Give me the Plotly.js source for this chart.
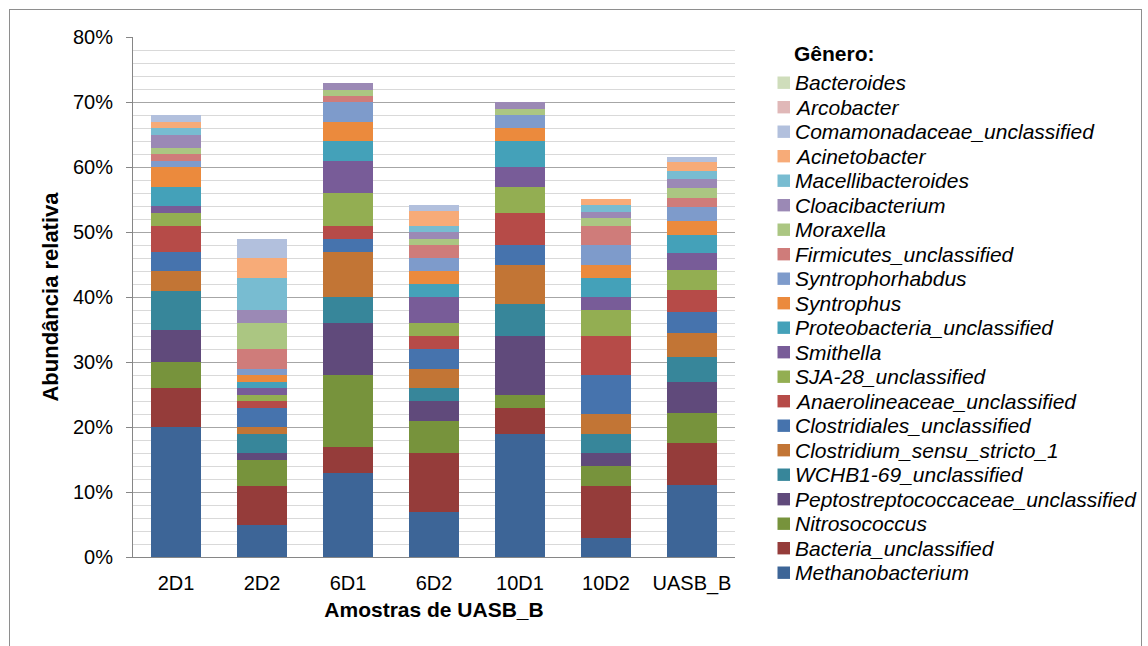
<!DOCTYPE html>
<html>
<head>
<meta charset="utf-8">
<script src="https://cdn.plot.ly/plotly-3.0.1.min.js"></script>
<style>
  html, body { margin: 0; padding: 0; background: #fff; }
  #wrap { position: relative; width: 1148px; height: 646px; overflow: hidden; }
  #chart { width: 1148px; height: 646px; }
  #frame { position: absolute; left: 9px; top: 9px; width: 1131px; height: 680px;
           border: 1px solid #8e8e8e; pointer-events: none; }
</style>
</head>
<body>
<div id="wrap"><div id="chart"></div><div id="frame"></div></div>
<script>
// Samples (x categories)
const amostras = ['2D1', '2D2', '6D1', '6D2', '10D1', '10D2', 'UASB_B'];

// Relative abundance (%) per genus, one value per sample
const methanobacterium   = [20, 5, 13, 7, 19, 3, 11.1];
const bacteriaUncl       = [6, 6, 4, 9, 4, 8, 6.4];
const nitrosococcus      = [4, 4, 11, 5, 2, 3, 4.7];
const peptostrepUncl     = [5, 1, 8, 3, 9, 2, 4.7];
const wchb169Uncl        = [6, 3, 4, 2, 5, 3, 3.8];
const clostridiumSS1     = [3, 1, 7, 3, 6, 3, 3.8];
const clostridialesUncl  = [3, 3, 2, 3, 3, 6, 3.2];
const anaerolineaceaeUncl= [4, 1, 2, 2, 5, 6, 3.4];
const sja28Uncl          = [2, 1, 5, 2, 4, 4, 3.0];
const smithella          = [1, 1, 5, 4, 3, 2, 2.7];
const proteobacteriaUncl = [3, 1, 3, 2, 4, 3, 2.8];
const syntrophus         = [3, 1, 3, 2, 2, 2, 2.1];
const syntrophorhabdus   = [1, 1, 3, 2, 2, 3, 2.1];
const firmicutesUncl     = [1, 3, 1, 2, 0, 3, 1.5];
const moraxella          = [0.9, 4, 0.9, 0.9, 1, 1.1, 1.5];
const cloacibacterium    = [2, 2, 1, 1.1, 1, 1, 1.3];
const macellibacteroides = [1.1, 5, 0, 0.9, 0, 1, 1.3];
const acinetobacter      = [1, 3, 0, 2.3, 0, 1, 1.3];
const comamonadaceaeUncl = [1, 3, 0, 0.9, 0, 0, 0.8];
const arcobacter         = [0, 0, 0, 0, 0, 0, 0];
const bacteroides        = [0, 0, 0, 0, 0, 0, 0];

// Stack order, bottom to top
const generos = [
  ['Methanobacterium', methanobacterium],
  ['Bacteria_unclassified', bacteriaUncl],
  ['Nitrosococcus', nitrosococcus],
  ['Peptostreptococcaceae_unclassified', peptostrepUncl],
  ['WCHB1-69_unclassified', wchb169Uncl],
  ['Clostridium_sensu_stricto_1', clostridiumSS1],
  ['Clostridiales_unclassified', clostridialesUncl],
  ['Anaerolineaceae_unclassified', anaerolineaceaeUncl],
  ['SJA-28_unclassified', sja28Uncl],
  ['Smithella', smithella],
  ['Proteobacteria_unclassified', proteobacteriaUncl],
  ['Syntrophus', syntrophus],
  ['Syntrophorhabdus', syntrophorhabdus],
  ['Firmicutes_unclassified', firmicutesUncl],
  ['Moraxella', moraxella],
  ['Cloacibacterium', cloacibacterium],
  ['Macellibacteroides', macellibacteroides],
  ['Acinetobacter', acinetobacter],
  ['Comamonadaceae_unclassified', comamonadaceaeUncl],
  ['Arcobacter', arcobacter],
  ['Bacteroides', bacteroides]
];

// Fill colours, same order as the stack
const cores = [
  '#3D6597', '#953C3A', '#77933C', '#604A7B', '#37869A', '#C27535', '#4673AD',
  '#B64B48', '#93AE52', '#785C98', '#44A1B9', '#EB8A3D', '#7E9BCB', '#CF7C7A',
  '#ABC682', '#9B89B5', '#78BCD1', '#F7AB78', '#B2C0DD', '#E0B8B8', '#CFDDBB'
];

const FONT = '"Liberation Sans", Arial, sans-serif';
const W = 1148, H = 646;
const L = 133, R = 735, T = 37, B = 557;   // plot area edges (px)
const px2x = px => (px - L) / (R - L);
const py2y = py => (B - py) / (B - T);

const traces = generos.map(([nome, valores], i) => ({
  type: 'bar',
  name: nome,
  x: amostras,
  y: valores,
  marker: { color: cores[i], line: { width: 0 } },
  hoverinfo: 'skip',
  showlegend: false
}));

// Legend drawn as a column of swatches + italic labels, top entry = top of stack
const annotations = [{
  xref: 'paper', yref: 'paper', x: px2x(792), y: py2y(53),
  xanchor: 'left', yanchor: 'middle', showarrow: false,
  text: 'Gênero:', font: { family: FONT, size: 21, color: '#000', weight: 'bold' }
}];
const shapes = [];
const ordemLegenda = generos.map((g, i) => i).reverse();
ordemLegenda.forEach((idx, k) => {
  const yc = 82.7 + 24.5 * k;
  shapes.push({
    type: 'rect', xref: 'paper', yref: 'paper',
    x0: px2x(777.5), x1: px2x(790), y0: py2y(yc + 6.2), y1: py2y(yc - 6.2),
    fillcolor: cores[idx], line: { width: 0 }
  });
  annotations.push({
    xref: 'paper', yref: 'paper', x: px2x(792.5), y: py2y(yc),
    xanchor: 'left', yanchor: 'middle', showarrow: false,
    text: generos[idx][0],
    font: { family: FONT, size: 21, color: '#000', style: 'italic' }
  });
});

const layout = {
  width: W, height: H,
  margin: { l: L, r: W - R, t: T, b: H - B, pad: 0 },
  paper_bgcolor: '#fff', plot_bgcolor: '#fff',
  barmode: 'stack', bargap: 0.426,
  showlegend: false,
  hovermode: false,
  font: { family: FONT, size: 20, color: '#000' },
  xaxis: {
    type: 'category', automargin: false,
    showline: true, linecolor: '#868686', linewidth: 1,
    showgrid: false, zeroline: false, ticks: '',
    tickfont: { family: FONT, size: 20, color: '#000' },
    ticklabelstandoff: 8,
    title: { text: 'Amostras de UASB_B', standoff: 8,
             font: { family: FONT, size: 21, color: '#000', weight: 'bold' } }
  },
  yaxis: {
    range: [0, 80], dtick: 10, ticksuffix: '%', automargin: false,
    showline: true, linecolor: '#868686', linewidth: 1,
    ticks: 'outside', ticklen: 6, tickcolor: '#868686',
    showgrid: true, gridcolor: '#a6a6a6', gridwidth: 1, zeroline: false,
    minor: { dtick: 2, showgrid: true, gridcolor: '#d9d9d9', gridwidth: 1, ticks: '' },
    tickfont: { family: FONT, size: 20, color: '#000' },
    ticklabelstandoff: 9,
    title: { text: 'Abundância relativa', standoff: 8,
             font: { family: FONT, size: 22, color: '#000', weight: 'bold' } }
  },
  annotations: annotations,
  shapes: shapes
};

Plotly.newPlot('chart', traces, layout, { displayModeBar: false, staticPlot: true });
</script>
</body>
</html>
